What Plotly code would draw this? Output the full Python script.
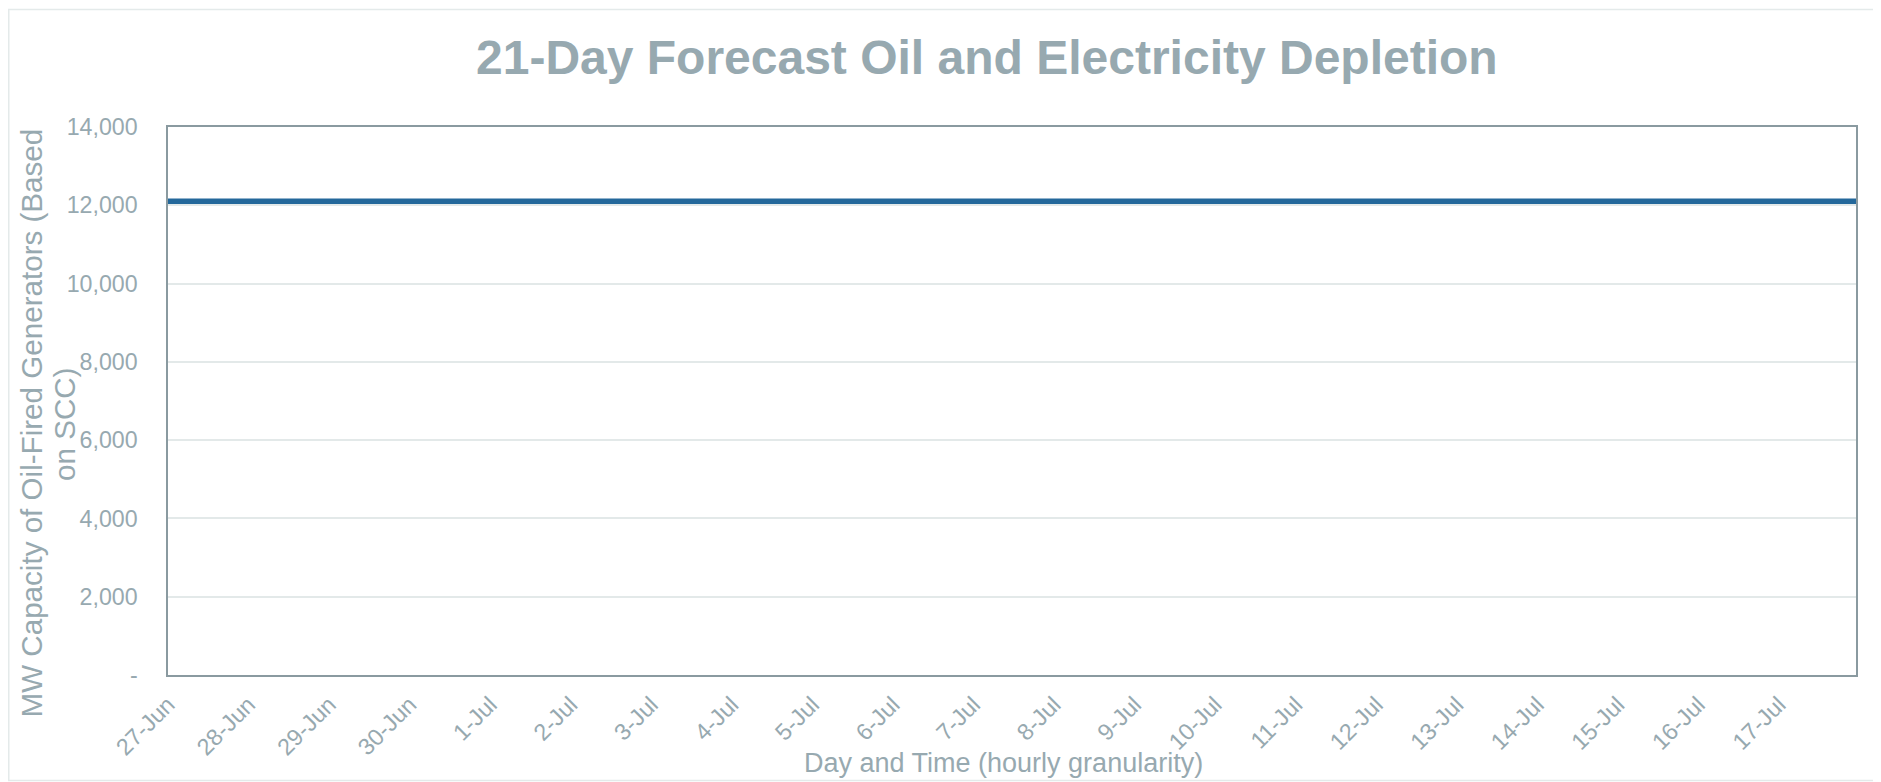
import pandas as pd
import plotly.graph_objects as go

# ---- data ----
day_labels = ["27-Jun", "28-Jun", "29-Jun", "30-Jun", "1-Jul", "2-Jul", "3-Jul",
              "4-Jul", "5-Jul", "6-Jul", "7-Jul", "8-Jul", "9-Jul", "10-Jul",
              "11-Jul", "12-Jul", "13-Jul", "14-Jul", "15-Jul", "16-Jul", "17-Jul"]
day_dates = ["2023-06-27", "2023-06-28", "2023-06-29", "2023-06-30", "2023-07-01",
             "2023-07-02", "2023-07-03", "2023-07-04", "2023-07-05", "2023-07-06",
             "2023-07-07", "2023-07-08", "2023-07-09", "2023-07-10", "2023-07-11",
             "2023-07-12", "2023-07-13", "2023-07-14", "2023-07-15", "2023-07-16",
             "2023-07-17"]
# MW capacity for each day (flat through every hour of the day)
daily_capacity_mw = [12100, 12100, 12100, 12100, 12100, 12100, 12100,
                     12100, 12100, 12100, 12100, 12100, 12100, 12100,
                     12100, 12100, 12100, 12100, 12100, 12100, 12100]
hours_per_day = 24
y_tick_vals = [0, 2000, 4000, 6000, 8000, 10000, 12000, 14000]
y_tick_text = ["-", "2,000", "4,000", "6,000", "8,000", "10,000", "12,000", "14,000"]

# hourly series
hourly_time = []
hourly_value = []
for d, v in zip(day_dates, daily_capacity_mw):
    for t in pd.date_range(d, periods=hours_per_day, freq="h"):
        hourly_time.append(t)
        hourly_value.append(v)

# page body has an 8px margin, so the figure starts at (8, 8) on screen
OFF = 8
W, H = 1881 - OFF, 782 - OFF
PL, PR, PT, PB = 168, 1856, 127, 675   # plot area in screen pixels
L, R, T, B = PL - OFF, OFF + W - PR, PT - OFF, OFF + H - PB
pw, ph = PR - PL, PB - PT

grey = "#97A9B0"
font = "Liberation Sans, Arial, sans-serif"

fig = go.Figure()
fig.add_trace(go.Scatter(
    x=hourly_time, y=hourly_value, mode="lines",
    line=dict(color="#24689B", width=5.5),
    hoverinfo="skip", showlegend=False,
))

fig.update_layout(
    width=W, height=H,
    margin=dict(l=L, r=R, t=T, b=B, autoexpand=False),
    paper_bgcolor="white", plot_bgcolor="white",
    font=dict(family=font, color=grey, size=23),
    showlegend=False,
)
fig.update_xaxes(
    type="date",
    range=[hourly_time[0], hourly_time[-1]],
    tickvals=[pd.Timestamp(d) for d in day_dates], ticktext=day_labels,
    tickangle=-45, tickfont=dict(size=23.3, color=grey),
    ticks="", showgrid=False, zeroline=False,
    showline=True, linecolor="#8A9AA0", linewidth=1.5, mirror=True,
    ticklabelstandoff=5,
)
fig.update_yaxes(
    range=[0, 14000],
    tickvals=y_tick_vals, ticktext=y_tick_text,
    tickfont=dict(size=23.2, color=grey),
    ticks="", showgrid=True, gridcolor="#E3E9E9", gridwidth=1.5,
    zeroline=False,
    showline=True, linecolor="#8A9AA0", linewidth=1.5, mirror=True,
    ticklabelstandoff=24,
)

def px(x):
    return (x - PL) / pw

def py(y):
    return (PB - y) / ph

fig.add_annotation(
    text="<b>21-Day Forecast Oil and Electricity Depletion</b>",
    xref="paper", yref="paper", x=px(987), y=py(57),
    xanchor="center", yanchor="middle", showarrow=False,
    font=dict(size=48, color=grey, family=font),
)
fig.add_annotation(
    text="Day and Time (hourly granularity)",
    xref="paper", yref="paper", x=px(1003), y=py(763),
    xanchor="center", yanchor="middle", showarrow=False,
    font=dict(size=27, color=grey, family=font),
)
fig.add_annotation(
    text="MW Capacity of Oil-Fired Generators (Based",
    xref="paper", yref="paper", x=px(31), y=py(423.5),
    xanchor="center", yanchor="middle", showarrow=False, textangle=-90,
    font=dict(size=29.6, color=grey, family=font),
)
fig.add_annotation(
    text="on SCC)",
    xref="paper", yref="paper", x=px(65), y=py(425),
    xanchor="center", yanchor="middle", showarrow=False, textangle=-90,
    font=dict(size=29.6, color=grey, family=font),
)
# outer chart border
fig.add_shape(
    type="rect", xref="paper", yref="paper",
    x0=px(8.75), x1=px(1895), y0=py(9.5), y1=py(780.5),
    line=dict(color="#E4EAEA", width=1.5), fillcolor="rgba(0,0,0,0)", layer="below",
)

fig.write_html("out.html")
